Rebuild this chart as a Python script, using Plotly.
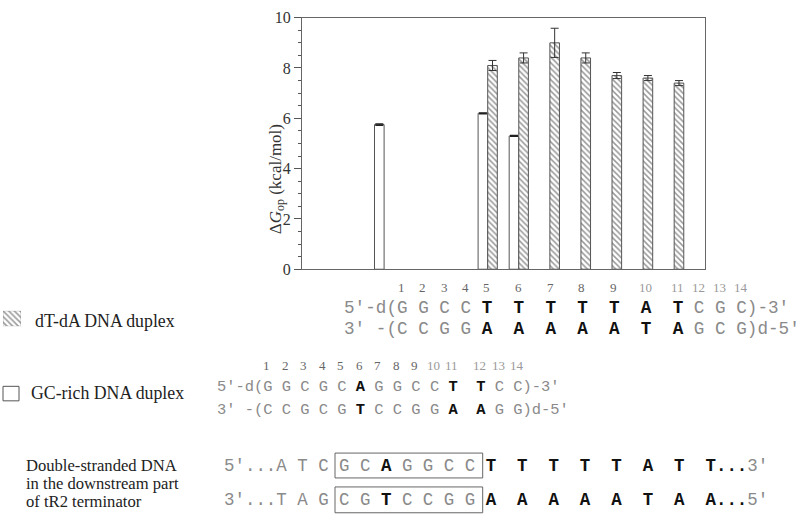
import plotly.graph_objects as go

W, H = 800, 524

# ---------------- data ----------------
dtda_positions = [5, 6, 7, 8, 9, 10, 11]          # dT-dA duplex numbering
dtda_dG = [8.1, 8.4, 9.0, 8.4, 7.7, 7.6, 7.4]
dtda_err = [0.2, 0.2, 0.58, 0.2, 0.12, 0.1, 0.1]

gc_positions = [6, 11, 12]                        # GC-rich duplex numbering
gc_dG = [5.75, 6.2, 5.3]
gc_err = [0.03, 0.02, 0.02]

y_tick_vals = [0, 2, 4, 6, 8, 10]
y_tick_text = ["0", "2", "4", "6", "8", "10"]
position_labels = [str(i) for i in range(1, 15)]

# '*' marks a bold (black) character
dtda_top = "5′-d(G G C C *T  *T  *T  *T  *T  *A  *T C G C)-3′"
dtda_bot = "3′ -(C C G G *A  *A  *A  *A  *A  *T  *A G C G)d-5′"
gc_top = "5′-d(G G C G C *A G G C C *T  *T C C)-3′"
gc_bot = "3′ -(C C G C G *T C C G G *A  *A G G)d-5′"
term_top = "5′...A T C G C *A G G C C *T  *T  *T  *T  *T  *A  *T  *T*.*.*.3′"
term_bot = "3′...T A G C G *T C C G G *A  *A  *A  *A  *A  *T  *A  *A*.*.*.5′"

legend_labels = ["dT-dA DNA duplex", "GC-rich DNA duplex"]
term_label = ["Double-stranded DNA", "in the downstream part", "of tR2 terminator"]

# alignment of each duplex onto the terminator sequence (0-based base index)
DTDA_OFFSET = 5
GC_OFFSET = -1

# ---------------- helpers ----------------
def parse(s):
    out, i = [], 0
    while i < len(s):
        if s[i] == "*":
            out.append((s[i + 1], True)); i += 2
        else:
            out.append((s[i], False)); i += 1
    return out

def base_cols(s):
    return [k for k, (c, b) in enumerate(parse(s)) if c in "ACGT"]

def to_html(s, plain="#8a8a8a", bold="#111111"):
    chars = parse(s)
    runs = []
    for c, b in chars:
        c = "\u00a0" if c == " " else c
        if runs and runs[-1][1] == b:
            runs[-1][0] += c
        else:
            runs.append([c, b])
    html = ""
    for txt, b in runs:
        if b:
            html += f"<span style='color:{bold}'><b>{txt}</b></span>"
        else:
            html += f"<span style='color:{plain}'>{txt}</span>"
    return html

def px(x):
    return x / W

def py(y):
    return 1 - y / H

MONO = "Liberation Mono, DejaVu Sans Mono, monospace"
SERIF = "Liberation Serif, Times New Roman, serif"
LBL = 17.8

term_cols = base_cols(term_top)
dtda_x = [term_cols[p + DTDA_OFFSET] for p in dtda_positions]
gc_x = [term_cols[q + GC_OFFSET] for q in gc_positions]

# x axis in terminator-column units
COL0_PX, COL_PX = 233.5, 10.36
PLOT_L, PLOT_R, PLOT_T, PLOT_B = 302, 705, 10, 270
bw = 9.6 / COL_PX

HATCH = dict(shape="\\", size=4, solidity=0.38, fgcolor="#333", bgcolor="white")

fig = go.Figure()

fig.add_trace(go.Bar(
    x=gc_x, y=gc_dG, width=bw, offset=-1.5 * bw,
    marker=dict(color="white", line=dict(color="#555", width=1)),
    error_y=dict(type="data", array=gc_err, color="#222", thickness=1.2, width=4),
    showlegend=False,
))
fig.add_trace(go.Bar(
    x=dtda_x, y=dtda_dG, width=bw, offset=-0.5 * bw,
    marker=dict(color="white", line=dict(color="#555", width=1), pattern=HATCH),
    error_y=dict(type="data", array=dtda_err, color="#333", thickness=1, width=4),
    showlegend=False,
))
# legend key (hatched)
fig.add_trace(go.Bar(
    x=[0], y=[1], width=1, xaxis="x2", yaxis="y2",
    marker=dict(color="white", line=dict(color="#888", width=0.5), pattern=HATCH),
    showlegend=False, hoverinfo="skip",
))

fig.update_layout(
    width=W, height=H, margin=dict(l=0, r=0, t=0, b=0),
    paper_bgcolor="white", plot_bgcolor="white", barmode="overlay",
    showlegend=False,
    xaxis=dict(domain=[px(PLOT_L), px(PLOT_R)],
               range=[(PLOT_L - COL0_PX) / COL_PX, (PLOT_R - COL0_PX) / COL_PX],
               showgrid=False, zeroline=False, showticklabels=False, ticks="",
               showline=True, linecolor="#666", linewidth=1, mirror=True),
    yaxis=dict(domain=[py(PLOT_B), py(PLOT_T)], range=[0, 10],
               tickvals=y_tick_vals, ticktext=y_tick_text,
               ticks="outside", ticklen=7, tickcolor="#555", tickwidth=1,
               minor=dict(dtick=0.5, ticks="outside", ticklen=3.5, tickcolor="#555"),
               tickfont=dict(family=SERIF, size=16, color="#333"),
               showgrid=False, zeroline=False,
               showline=True, linecolor="#666", linewidth=1, mirror=True),
    xaxis2=dict(domain=[px(3), px(21)], range=[-0.5, 0.5], visible=False, anchor="y2"),
    yaxis2=dict(domain=[py(329), py(313)], range=[0, 1], visible=False, anchor="x2"),
)

ann = []
# y-axis title
ann.append(dict(text="Δ<i>G</i><sub>op</sub> (kcal/mol)", textangle=-90,
                x=px(264), y=py(118), xref="paper", yref="paper",
                showarrow=False, font=dict(family=SERIF, size=17, color="#333")))

def seq_row(s, x0, w, y):
    return dict(text=to_html(s), x=px(x0 - w / 2), y=py(y), xref="paper", yref="paper",
                xanchor="left", yanchor="middle", showarrow=False, borderpad=0,
                font=dict(family=MONO, size=w / 0.6))

def num_row(s, x0, w, y):
    out = []
    for lab, c in zip(position_labels, base_cols(s)):
        out.append(dict(text=lab, x=px(x0 + w * c), y=py(y), xref="paper", yref="paper",
                        xanchor="center", yanchor="middle", showarrow=False,
                        font=dict(family=SERIF, size=13,
                                  color="#666" if len(lab) == 1 else "#9a9a9a")))
    return out

# dT-dA duplex
D_X0, D_W = 348.7, 10.6
ann += num_row(dtda_top, D_X0, D_W, 289)
ann.append(seq_row(dtda_top, D_X0, D_W, 310))
ann.append(seq_row(dtda_bot, D_X0, D_W, 332))
# GC-rich duplex
G_X0, G_W = 220.4, 9.26
ann += num_row(gc_top, G_X0, G_W, 370)
ann.append(seq_row(gc_top, G_X0, G_W, 392))
ann.append(seq_row(gc_bot, G_X0, G_W, 415))
# terminator
T_X0, T_W = 228.4, 10.47
ann.append(seq_row(term_top, T_X0, T_W, 473))
ann.append(seq_row(term_bot, T_X0, T_W, 509))

# legend texts
ann.append(dict(text=legend_labels[0], x=px(33), y=py(323), xref="paper", yref="paper",
                xanchor="left", yanchor="middle", showarrow=False,
                font=dict(family=SERIF, size=LBL, color="#222")))
ann.append(dict(text=legend_labels[1], x=px(29), y=py(398), xref="paper", yref="paper",
                xanchor="left", yanchor="middle", showarrow=False,
                font=dict(family=SERIF, size=LBL, color="#222")))
for i, line in enumerate(term_label):
    ann.append(dict(text=line, x=px(26), y=py(473 + 18.5 * i), xref="paper", yref="paper",
                    xanchor="left", yanchor="middle", showarrow=False, borderpad=0,
                    borderwidth=0, font=dict(family=SERIF, size=16.6, color="#222")))

fig.update_layout(annotations=ann)

shapes = [
    dict(type="rect", xref="paper", yref="paper", x0=px(3), x1=px(19),
         y0=py(406), y1=py(391), line=dict(color="#555", width=1), fillcolor="white"),
    dict(type="rect", xref="paper", yref="paper", x0=px(335), x1=px(482.7),
         y0=py(485.7), y1=py(460), line=dict(color="#666", width=1)),
    dict(type="rect", xref="paper", yref="paper", x0=px(335), x1=px(482.7),
         y0=py(521.7), y1=py(495), line=dict(color="#666", width=1)),
]
fig.update_layout(shapes=shapes)

fig.write_html("out.html", config={"displayModeBar": False},
               post_script="document.body.style.margin='0';document.body.style.padding='0';")
